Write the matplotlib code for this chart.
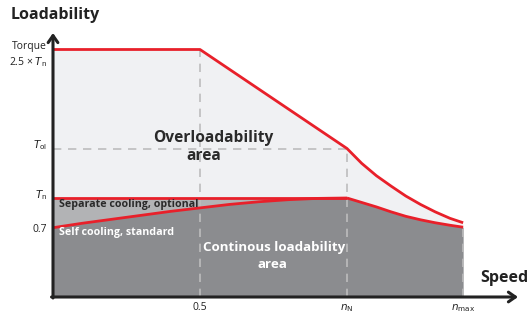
import matplotlib.pyplot as plt
import numpy as np

plt.rcParams['font.family'] = ['Open Sans', 'DejaVu Sans']

# speed in units of n_N, torque in units of T_n
n_half = 0.5
n_N = 1.0
n_max = 1.395
T_max = 2.5
T_ol = 1.5
T_n = 1.0
T_self0 = 0.7

# self cooling curve (0 .. n_N)
self_n = [0.0, 0.1, 0.2, 0.3, 0.4, 0.5, 0.6, 0.7, 0.8, 0.9, 1.0]
self_T = [0.70, 0.745, 0.785, 0.825, 0.865, 0.90, 0.935, 0.962, 0.983, 0.996, 1.0]

# field weakening part of overload curve (n_N .. n_max)
over_n = [1.0, 1.05, 1.10, 1.15, 1.20, 1.25, 1.30, 1.35, 1.395]
over_T = [1.50, 1.35, 1.225, 1.12, 1.02, 0.935, 0.86, 0.795, 0.75]

# field weakening part of continuous curve (n_N .. n_max)
cont_n = [1.0, 1.05, 1.10, 1.15, 1.20, 1.25, 1.30, 1.35, 1.395]
cont_T = [1.00, 0.955, 0.91, 0.86, 0.815, 0.78, 0.75, 0.725, 0.705]

red = '#E8202A'
light = '#F0F1F3'
mid = '#B2B3B5'
dark = '#8B8C8F'
dash = '#BDBDBD'
ink = '#222222'

fig = plt.figure(figsize=(5.3, 3.14), dpi=100)
ax = fig.add_axes([0, 0, 1, 1])
# pixel mapping: x = 53 + 294*n, y = 297 - 99*T
ax.set_xlim(-53 / 294, (530 - 53) / 294)
ax.set_ylim((297 - 314) / 99, 297 / 99)
ax.axis('off')

# overload boundary
top_n = [0.0, n_half] + over_n
top_T = [T_max, T_max] + over_T
bot_n = [0.0, n_N] + cont_n[1:]
bot_T = [T_n, T_n] + cont_T[1:]

ax.fill(top_n + bot_n[::-1], top_T + bot_T[::-1], color=light, lw=0, zorder=1)
ax.fill_between(self_n, self_T, T_n, color=mid, lw=0, zorder=1)
dark_n = self_n + cont_n[1:]
dark_T = self_T + cont_T[1:]
ax.fill_between(dark_n, 0, dark_T, color=dark, lw=0, zorder=1)

# dashed guides
dkw = dict(color=dash, lw=1.2, dashes=(5, 4), zorder=2)
ax.plot([n_half, n_half], [0, T_max], **dkw)
ax.plot([n_N, n_N], [0, T_ol], **dkw)
ax.plot([0, n_N], [T_ol, T_ol], **dkw)
ax.plot([n_max, n_max], [0, cont_T[-1]], **dkw)

# red curves
rkw = dict(color=red, lw=2, zorder=3, solid_capstyle='butt', solid_joinstyle='round')
ax.plot(top_n, top_T, **rkw)
ax.plot([0, n_N], [T_n, T_n], **rkw)
ax.plot(self_n, self_T, **rkw)
ax.plot(cont_n, cont_T, **rkw)

# axes with arrows
akw = dict(arrowstyle='->,head_length=0.5,head_width=0.35', color=ink, lw=2.2,
           shrinkA=0, shrinkB=0)
ax.annotate('', xy=(0, (297 - 33) / 99), xytext=(0, -0.01), arrowprops=akw, zorder=4)
ax.annotate('', xy=((518 - 53) / 294, 0), xytext=(-0.005, 0), arrowprops=akw, zorder=4)

ax.text(-42 / 294, (297 - 15) / 99, 'Loadability', fontsize=11.5, fontweight='bold',
        color=ink, va='center', ha='left')
ax.text((528 - 53) / 294, (297 - 278) / 99, 'Speed', fontsize=11.5, fontweight='bold',
        color=ink, va='center', ha='right')

# y labels
lx = -6 / 294
fs = 7.5
ax.text(lx, (297 - 46) / 99, 'Torque', fontsize=fs, color=ink, ha='right', va='center')
ax.text(lx, (297 - 62) / 99, r'2.5 × $\mathit{T}_{\mathrm{n}}$', fontsize=fs, color=ink,
        ha='right', va='center')
ax.text(lx, (297 - 145) / 99, r'$\mathit{T}_{\mathrm{ol}}$', fontsize=fs, color=ink,
        ha='right', va='center')
ax.text(lx, (297 - 195) / 99, r'$\mathit{T}_{\mathrm{n}}$', fontsize=fs, color=ink,
        ha='right', va='center')
ax.text(lx, (297 - 229) / 99, '0.7', fontsize=fs, color=ink, ha='right', va='center')

# x labels
ty = (297 - 308) / 99
ax.text(n_half, ty, '0.5', fontsize=fs, color=ink, ha='center', va='center')
ax.text(n_N, ty, r'$\mathit{n}_{\mathrm{N}}$', fontsize=fs, color=ink, ha='center', va='center')
ax.text(n_max, ty, r'$\mathit{n}_{\mathrm{max}}$', fontsize=fs, color=ink, ha='center',
        va='center')

# area labels
ax.text((213 - 53) / 294, (297 - 138) / 99, 'Overloadability', fontsize=11.2,
        fontweight='bold', color='#2a2a2a', ha='center', va='center', zorder=5)
ax.text((204 - 53) / 294, (297 - 156) / 99, 'area', fontsize=11.2,
        fontweight='bold', color='#2a2a2a', ha='center', va='center', zorder=5)
ax.text((274 - 53) / 294, (297 - 248) / 99, 'Continous loadability', fontsize=9.6,
        fontweight='bold', color='white', ha='center', va='center', zorder=5)
ax.text((272 - 53) / 294, (297 - 265) / 99, 'area', fontsize=9.6,
        fontweight='bold', color='white', ha='center', va='center', zorder=5)
ax.text(6 / 294, (297 - 204) / 99, 'Separate cooling, optional', fontsize=7.7,
        fontweight='bold', color='#2a2a2a', ha='left', va='center', zorder=5)
ax.text(6 / 294, (297 - 233) / 99, 'Self cooling, standard', fontsize=7.7,
        fontweight='bold', color='white', ha='left', va='center', zorder=5)

fig.savefig('out.png', dpi=100)
